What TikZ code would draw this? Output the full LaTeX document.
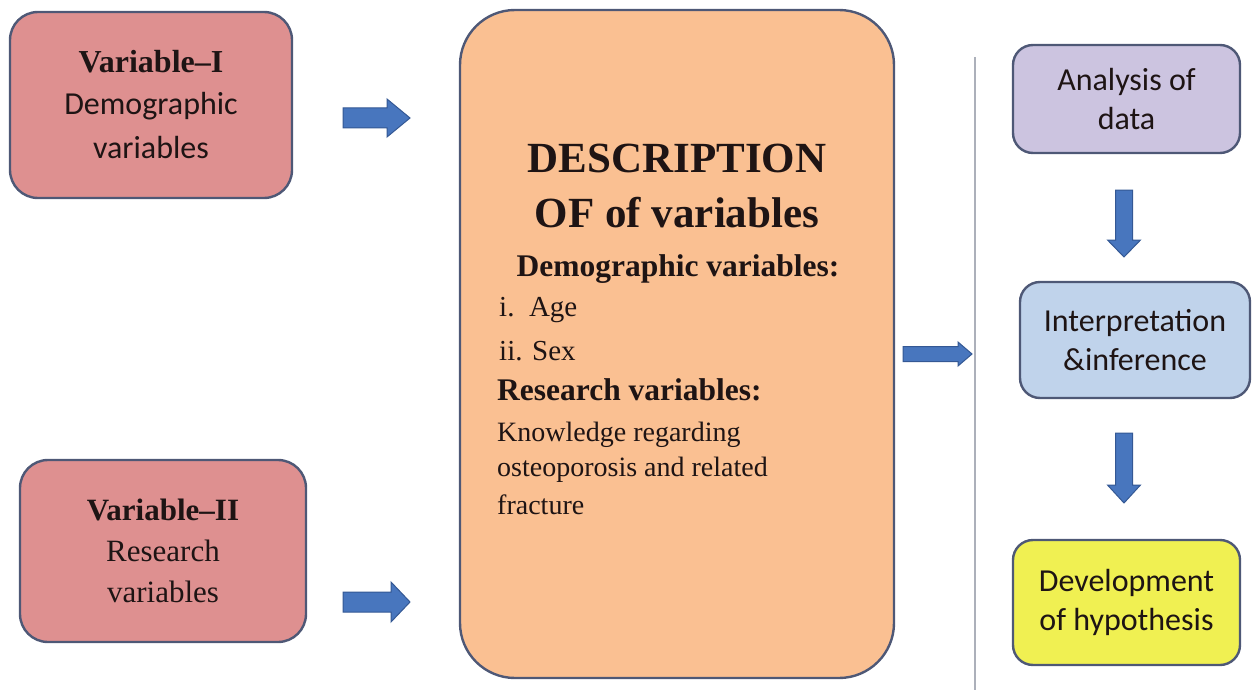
\documentclass[tikz,border=0pt]{standalone}
\usepackage{fontspec}
\setmainfont{Liberation Serif}
\newfontfamily\calib{Carlito}
\definecolor{boxedge}{RGB}{78,88,118}
\definecolor{pinkfill}{RGB}{222,144,144}
\definecolor{peachfill}{RGB}{250,192,146}
\definecolor{lavfill}{RGB}{204,196,224}
\definecolor{bluefill}{RGB}{192,211,235}
\definecolor{yelfill}{RGB}{240,240,82}
\definecolor{arrowfill}{RGB}{72,118,190}
\definecolor{arrowedge}{RGB}{52,88,148}
\definecolor{rulegray}{RGB}{172,176,186}
\definecolor{inktext}{RGB}{30,20,20}
\tikzset{
  roundbox/.style={draw=boxedge, line width=2.4pt, rounded corners=#1, inner sep=0pt, align=center, text=inktext},
  roundbox/.default=28pt,
  blockarrow/.style={fill=arrowfill, draw=arrowedge, line width=1pt, line join=miter},
  serifhead/.style={font=\fontsize{43}{50}\selectfont\bfseries, inner sep=0pt, text=inktext},
  serifsub/.style={font=\fontsize{31.5}{36}\selectfont\bfseries, inner sep=0pt, text=inktext},
  serifline/.style={font=\fontsize{29}{34}\selectfont, inner sep=0pt, text=inktext, anchor=base west},
  sansbox/.style={font=\calib\fontsize{32}{39}\selectfont}
}
\begin{document}
\begin{tikzpicture}[x=1pt, y=-1pt]
\useasboundingbox (0,0) rectangle (1253,690);

% input boxes on the left
\node[roundbox, fill=pinkfill, minimum width=282pt, minimum height=186pt,
      font=\fontsize{32}{44}\selectfont] (var1) at (151,105)
  {\textbf{Variable–I}\\[-2pt]{\calib Demographic}\\{\calib variables}};
\node[roundbox, fill=pinkfill, minimum width=286pt, minimum height=182pt,
      font=\rmfamily\fontsize{31}{41}\selectfont] (var2) at (163,551)
  {\textbf{Variable–II}\\Research\\variables};

% central description box
\node[roundbox=55pt, fill=peachfill, minimum width=434pt, minimum height=668pt] (desc) at (677,344) {};
\node[serifhead, anchor=base] (t1) at (677,172) {DESCRIPTION};
\node[serifhead, anchor=base] (t2) at (677,227) {OF of variables};
\node[serifsub, anchor=base] (t3) at (678,276) {Demographic variables:};
\node[serifline] (t4) at (499,316) {i.\ \ Age};
\node[serifline] (t5) at (499,360) {ii. Sex};
\node[serifsub, anchor=base west] (t6) at (497,400) {Research variables:};
\node[serifline, font=\fontsize{28}{32}\selectfont] (t7) at (497,441) {Knowledge regarding};
\node[serifline, font=\fontsize{28}{32}\selectfont] (t8) at (497,476) {osteoporosis and related};
\node[serifline, font=\fontsize{28}{32}\selectfont] (t9) at (497,514) {fracture};

% separator
\coordinate (ruletop) at (975,57);
\coordinate (rulebot) at (975,690);
\draw[rulegray, line width=1.6pt] (ruletop) -- (rulebot);

% analysis chain on the right
\node[roundbox=20pt, fill=lavfill, minimum width=227pt, minimum height=108pt, sansbox] (ana) at (1126.5,99)
  {Analysis of\\data};
\node[roundbox=20pt, fill=bluefill, minimum width=230pt, minimum height=116pt, sansbox] (inf) at (1135,340)
  {Interpretation\\\&inference};
\node[roundbox=20pt, fill=yelfill, minimum width=227pt, minimum height=125pt, sansbox] (hyp) at (1126.5,602.5)
  {Development\\of hypothesis};

% block arrows
\coordinate (a1) at (343,118);
\coordinate (a2) at (343,602);
\coordinate (a3) at (903,354);
\coordinate (d1) at (1124,190);
\coordinate (d2) at (1124,433);
\draw[blockarrow, shift={(a1)}] (0,-10) -- (44,-10) -- (44,-19) -- (67,0) -- (44,19) -- (44,10) -- (0,10) -- cycle;
\draw[blockarrow, shift={(a2)}] (0,-10) -- (48,-10) -- (48,-20) -- (67,0) -- (48,20) -- (48,10) -- (0,10) -- cycle;
\draw[blockarrow, shift={(a3)}] (0,-7.5) -- (55,-7.5) -- (55,-12) -- (69,0) -- (55,12) -- (55,7.5) -- (0,7.5) -- cycle;
\draw[blockarrow, shift={(d1)}] (-8.5,0) -- (-8.5,50) -- (-16.5,50) -- (0,67) -- (16.5,50) -- (8.5,50) -- (8.5,0) -- cycle;
\draw[blockarrow, shift={(d2)}] (-8.5,0) -- (-8.5,52) -- (-16.5,52) -- (0,70) -- (16.5,52) -- (8.5,52) -- (8.5,0) -- cycle;
\end{tikzpicture}
\end{document}
